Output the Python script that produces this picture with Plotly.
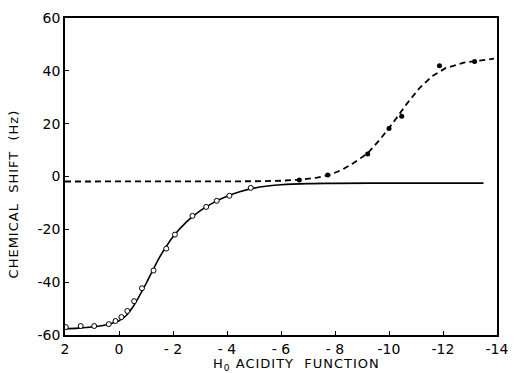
import plotly.graph_objects as go

# Open circles (solid curve data)
open_x = [1.97, 1.42, 0.92, 0.38, 0.13, -0.09, -0.31, -0.56, -0.85, -1.28, -1.75, -2.07, -2.72, -3.23, -3.62, -4.09, -4.88]
open_y = [-57.0, -56.6, -56.6, -55.9, -54.7, -53.2, -50.9, -47.2, -42.3, -35.6, -27.3, -22.0, -14.9, -11.5, -9.2, -7.3, -4.3]

# Solid fitted curve
solid_x = [2.0, 1.5, 1.0, 0.5, 0.0, -0.25, -0.5, -0.75, -1.0, -1.25, -1.5, -1.75, -2.0, -2.5, -3.0, -3.5, -4.0, -4.5, -5.0, -5.5, -6.0, -7.0, -8.0, -10.0, -12.0, -13.5]
solid_y = [-57.6, -57.4, -57.0, -56.2, -54.6, -52.8, -49.6, -45.3, -40.6, -35.5, -30.6, -26.5, -22.8, -17.2, -13.0, -9.9, -7.5, -5.7, -4.4, -3.6, -3.1, -2.7, -2.6, -2.5, -2.5, -2.5]

# Filled dots (dashed curve data)
fill_x = [-6.68, -7.73, -9.21, -10.0, -10.47, -11.87, -13.17]
fill_y = [-1.3, 0.6, 8.5, 18.2, 22.8, 41.9, 43.5]

# Dashed fitted curve
dash_x = [2.0, 0.0, -2.0, -4.0, -5.0, -6.0, -6.7, -7.3, -7.8, -8.23, -8.70, -9.21, -9.68, -10.14, -10.65, -11.12, -11.59, -12.09, -12.81, -13.89]
dash_y = [-1.9, -1.9, -1.9, -1.9, -1.8, -1.6, -1.2, -0.5, 0.6, 2.4, 5.2, 8.8, 14.2, 20.2, 27.4, 33.4, 37.9, 41.0, 43.2, 44.6]

x_ticks = [2, 0, -2, -4, -6, -8, -10, -12, -14]
x_labels = ["2", "0", "- 2", "- 4", "- 6", "- 8", "-10", "-12", "-14"]
y_ticks = [-60, -40, -20, 0, 20, 40, 60]
y_labels = ["-60", "-40", "-20", "0", "20", "40", "60"]

x_title = "H<sub>0</sub> ACIDITY  FUNCTION"
y_title = "CHEMICAL  SHIFT  (Hz)"

fig = go.Figure()
fig.add_trace(go.Scatter(x=dash_x, y=dash_y, mode="lines",
                         line=dict(color="black", width=1.8, dash="6px,4px"), hoverinfo="skip"))
fig.add_trace(go.Scatter(x=solid_x, y=solid_y, mode="lines", line_shape="spline",
                         line=dict(color="black", width=1.6), hoverinfo="skip"))
fig.add_trace(go.Scatter(x=open_x, y=open_y, mode="markers",
                         marker=dict(symbol="circle", size=5, color="white",
                                     line=dict(color="black", width=1))))
fig.add_trace(go.Scatter(x=fill_x, y=fill_y, mode="markers",
                         marker=dict(symbol="circle", size=5, color="black")))

font_family = "DejaVu Sans, Arial, sans-serif"
fig.update_layout(
    width=517, height=373,
    margin=dict(l=65, r=8, t=18, b=38),
    paper_bgcolor="white", plot_bgcolor="white",
    showlegend=False,
    font=dict(family=font_family, color="black", size=13),
    xaxis=dict(range=[2, -14], tickvals=x_ticks, ticktext=x_labels,
               ticks="inside", ticklen=4, tickcolor="black", tickwidth=1,
               showline=True, linecolor="black", linewidth=1.5, mirror=True,
               showgrid=False, zeroline=False, ticklabeloverflow="allow",
               tickfont=dict(size=14, family=font_family)),
    yaxis=dict(range=[-60, 60], tickvals=y_ticks, ticktext=y_labels,
               ticks="inside", ticklen=4, tickcolor="black", tickwidth=1,
               showline=True, linecolor="black", linewidth=1.5, mirror=True,
               showgrid=False, zeroline=False,
               tickfont=dict(size=14, family=font_family)),
    annotations=[
        dict(text=x_title, xref="paper", yref="paper", x=0.535, y=0,
             xanchor="center", yanchor="middle", yshift=-29, showarrow=False,
             font=dict(size=13, family=font_family)),
        dict(text=y_title, xref="paper", yref="paper", x=0, y=0.445,
             xanchor="center", yanchor="middle", xshift=-51, textangle=-90,
             showarrow=False, font=dict(size=13, family=font_family)),
    ],
)

post = """
document.body.style.margin = '0';
document.body.style.padding = '0';
document.body.style.overflow = 'hidden';
document.querySelectorAll('.annotation-text').forEach(function(t){
  t.setAttribute('letter-spacing', '1px');
});
"""
fig.write_html("out.html", post_script=post, config={"displayModeBar": False})
